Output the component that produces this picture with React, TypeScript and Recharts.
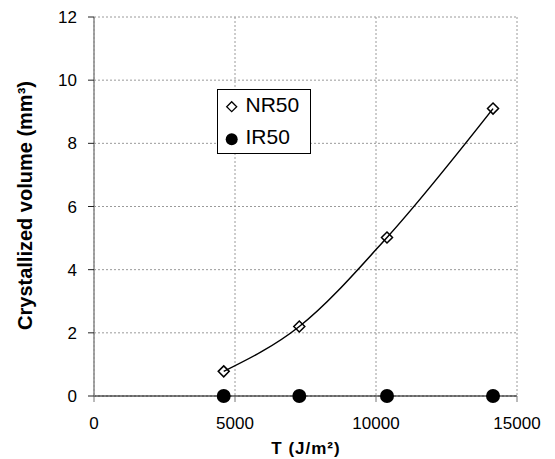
import { ComposedChart, Line, Scatter, XAxis, YAxis, CartesianGrid, Legend, Label } from 'recharts'

// fluence T (J/m²) for each sample
const tValues = [4600, 7280, 10390, 14150]
const nr50Values = [0.78, 2.2, 5.02, 9.1]
const ir50Values = [0, 0, 0, 0]
const xTicks = [0, 5000, 10000, 15000]
const yTicks = [0, 2, 4, 6, 8, 10, 12]

const nr50 = tValues.map((x, i) => ({ x, y: nr50Values[i] }))
const ir50 = tValues.map((x, i) => ({ x, y: ir50Values[i] }))

const font = '"Liberation Sans", Arial, sans-serif'

// eslint-disable-next-line @typescript-eslint/no-explicit-any
const Diamond = (p: any) => {
  const { cx, cy } = p
  const s = 5.5
  return <path d={`M${cx},${cy - s}L${cx + s},${cy}L${cx},${cy + s}L${cx - s},${cy}Z`} fill="none" stroke="#000" strokeWidth={1.5} />
}

// eslint-disable-next-line @typescript-eslint/no-explicit-any
const Dot = (p: any) => <circle cx={p.cx} cy={p.cy} r={7} fill="#000" />

const LegendBox = () => (
  <svg width={94} height={65} style={{ display: 'block' }}>
    <rect x={0.5} y={0.5} width={93} height={64} fill="#fff" stroke="#000" />
    <path d="M14.7,12.7L19.7,17.7L14.7,22.7L9.7,17.7Z" fill="none" stroke="#000" strokeWidth={1.3} />
    <text x={28.5} y={22.7} fontSize={21} fontFamily={font} fill="#000">NR50</text>
    <circle cx={14.7} cy={50.3} r={6} fill="#000" />
    <text x={28.5} y={55} fontSize={21} fontFamily={font} fill="#000">IR50</text>
  </svg>
)

export default function App() {
  return (
    <div style={{ position: 'absolute', left: 0, top: 0, width: 555, height: 459, background: '#fff' }}>
      <ComposedChart width={555} height={459} margin={{ top: 17, right: 38, bottom: 33, left: 44 }} style={{ fontFamily: font }}>
        <CartesianGrid stroke="#9a9a9a" strokeDasharray="2 2" />
        <XAxis
          type="number"
          dataKey="x"
          domain={[0, 15000]}
          ticks={xTicks}
          height={30}
          axisLine={{ stroke: '#000', strokeWidth: 1 }}
          tickLine={{ stroke: '#777' }}
          tickSize={6}
          tickMargin={15}
          tick={{ fill: '#000', fontSize: 17, fontFamily: font }}
        >
          <Label
            content={() => (
              <text x={306} y={454.3} textAnchor="middle" fontSize={17} fontWeight="bold" fontFamily={font} fill="#000" letterSpacing={1}>
                T (J/m²)
              </text>
            )}
          />
        </XAxis>
        <YAxis
          type="number"
          dataKey="y"
          domain={[0, 12]}
          ticks={yTicks}
          width={50}
          axisLine={{ stroke: '#888', strokeWidth: 1.5 }}
          tickLine={{ stroke: '#222' }}
          tickSize={6}
          tickMargin={11}
          tick={{ fill: '#000', fontSize: 17, fontFamily: font }}
        >
          <Label
            content={() => (
              <text x={32} y={205.5} transform="rotate(-90 32 205.5)" textAnchor="middle" fontSize={20} fontWeight="bold" fontFamily={font} fill="#000">
                Crystallized volume (mm³)
              </text>
            )}
          />
        </YAxis>
        <Line data={nr50} dataKey="y" type="monotone" stroke="#000" strokeWidth={1.5} dot={false} activeDot={false} isAnimationActive={false} legendType="none" />
        <Scatter name="NR50" data={nr50} dataKey="y" shape={Diamond} isAnimationActive={false} />
        <Scatter name="IR50" data={ir50} dataKey="y" shape={Dot} isAnimationActive={false} />
        <Legend
          layout="vertical"
          align="center"
          verticalAlign="middle"
          content={LegendBox}
          wrapperStyle={{ left: 217, top: 89, width: 94, height: 65 }}
        />
      </ComposedChart>
    </div>
  )
}
